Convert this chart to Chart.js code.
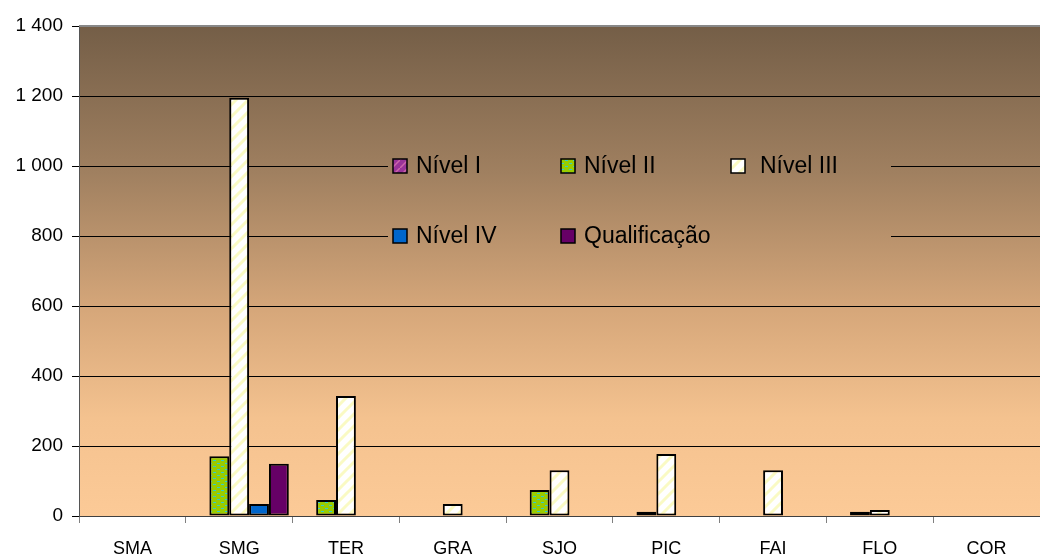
<!DOCTYPE html>
<html>
<head>
<meta charset="utf-8">
<title>Formação por ilha</title>
<script src="https://cdn.jsdelivr.net/npm/chart.js@4/dist/chart.umd.min.js"></script>
<style>
  html, body { margin: 0; padding: 0; background: #ffffff; }
  #wrap { width: 1040px; height: 558px; position: relative; }
</style>
</head>
<body>
<div id="wrap"><canvas id="chart" width="1040" height="558"></canvas></div>
<script>
// Data
const islands = ['SMA', 'SMG', 'TER', 'GRA', 'SJO', 'PIC', 'FAI', 'FLO', 'COR'];
const seriesNames = ['Nível I', 'Nível II', 'Nível III', 'Nível IV', 'Qualificação'];
const nivel1 = [0, 0, 0, 0, 0, 0, 0, 0, 0];
const nivel2 = [0, 171, 46, 0, 74, 12, 0, 12, 0];
const nivel3 = [0, 1195, 343, 34, 131, 177, 131, 17, 0];
const nivel4 = [0, 34, 0, 0, 0, 0, 0, 0, 0];
const qualificacao = [0, 149, 0, 0, 0, 0, 0, 0, 0];
const yTicks = [0, 200, 400, 600, 800, 1000, 1200, 1400];

const FONT = 'Arial, "Liberation Sans", sans-serif';

// --- fill patterns ---
function makeTile(w, h, draw) {
  const c = document.createElement('canvas');
  c.width = w;
  c.height = h;
  draw(c.getContext('2d'));
  return c;
}

const ctx = document.getElementById('chart').getContext('2d');

const tileNivel1 = makeTile(8, 8, (g) => {
  g.fillStyle = '#993399';
  g.fillRect(0, 0, 8, 8);
  g.strokeStyle = '#cc66aa';
  g.lineWidth = 1.5;
  g.beginPath();
  g.moveTo(0, 8); g.lineTo(8, 0);
  g.stroke();
});
const tileNivel2 = makeTile(8, 6, (g) => {
  g.fillStyle = '#99cc00';
  g.fillRect(0, 0, 8, 6);
  g.fillStyle = '#33cccc';
  g.fillRect(1, 1, 3, 1);
  g.fillRect(5, 4, 3, 1);
});
const tileNivel3 = makeTile(12, 12, (g) => {
  g.fillStyle = '#ffffff';
  g.fillRect(0, 0, 12, 12);
  g.strokeStyle = '#fafac4';
  g.lineWidth = 3;
  g.beginPath();
  g.moveTo(-3, 15); g.lineTo(15, -3);
  g.moveTo(-9, 9); g.lineTo(9, -9);
  g.moveTo(3, 21); g.lineTo(21, 3);
  g.stroke();
});
const tileNivel4 = makeTile(20, 20, (g) => {
  g.fillStyle = '#0066cc';
  g.fillRect(0, 0, 20, 20);
  g.fillStyle = '#dde8ff';
  g.fillRect(9, 9, 2, 2);
});

const fills = [
  ctx.createPattern(tileNivel1, 'repeat'),
  ctx.createPattern(tileNivel2, 'repeat'),
  ctx.createPattern(tileNivel3, 'repeat'),
  ctx.createPattern(tileNivel4, 'repeat'),
  '#660066'
];
const values = [nivel1, nivel2, nivel3, nivel4, qualificacao];

function areaGradient(c, area) {
  const g = c.createLinearGradient(0, area.top, 0, area.bottom);
  g.addColorStop(0, '#745e47');
  g.addColorStop(0.3, '#a08060');
  g.addColorStop(0.58, '#d6a77a');
  g.addColorStop(0.8, '#f4c28f');
  g.addColorStop(1, '#fcca97');
  return g;
}

// background of the plot area
const plotBackground = {
  id: 'plotBackground',
  beforeDraw(chart) {
    const { ctx: c, chartArea: a } = chart;
    c.save();
    c.fillStyle = areaGradient(c, a);
    c.fillRect(a.left, a.top, a.right - a.left, a.bottom - a.top);
    c.restore();
  },
  afterDraw(chart) {
    const { ctx: c, chartArea: a } = chart;
    c.save();
    c.strokeStyle = '#888888';
    c.lineWidth = 2;
    c.beginPath();
    c.moveTo(a.left, a.top);
    c.lineTo(a.right, a.top);
    c.stroke();
    c.restore();
  }
};

// legend sitting inside the plot, hiding the grid lines behind it
const innerLegend = {
  id: 'innerLegend',
  beforeDatasetsDraw(chart) {
    const { ctx: c, chartArea: a } = chart;
    const yScale = chart.scales.y;
    const box = { x: 388, y: 140, w: 503, h: 122 };
    c.save();
    c.fillStyle = areaGradient(c, a);
    c.fillRect(box.x, box.y, box.w, box.h);

    const cols = [393, 561, 731];
    const textX = [416, 584, 760];
    const rows = [yScale.getPixelForValue(1000), yScale.getPixelForValue(800)];
    c.font = '23px ' + FONT;
    c.textBaseline = 'middle';
    chart.data.datasets.forEach((ds, i) => {
      const col = i % 3;
      const row = Math.floor(i / 3);
      const bx = cols[col];
      const by = rows[row] - 7;
      c.fillStyle = ds.backgroundColor;
      c.fillRect(bx, by, 14, 14);
      c.strokeStyle = '#000000';
      c.lineWidth = 1.5;
      c.strokeRect(bx, by, 14, 14);
      c.fillStyle = '#000000';
      c.fillText(ds.label, textX[col], rows[row] + 1);
    });
    c.restore();
  }
};

function formatThousands(v) {
  return String(v).replace(/\B(?=(\d{3})+(?!\d))/g, ' ');
}

new Chart(ctx, {
  type: 'bar',
  data: {
    labels: islands,
    datasets: seriesNames.map((name, i) => ({
      label: name,
      data: values[i],
      backgroundColor: fills[i],
      borderColor: '#000000',
      borderWidth: 2,
      borderSkipped: false,
      categoryPercentage: 0.93,
      barPercentage: 1.0
    }))
  },
  options: {
    responsive: false,
    animation: false,
    devicePixelRatio: 1,
    layout: { padding: { top: 26, right: 0, left: 0, bottom: 0 } },
    plugins: {
      legend: { display: false },
      tooltip: { enabled: false }
    },
    scales: {
      x: {
        grid: {
          display: true,
          drawOnChartArea: false,
          drawTicks: true,
          tickLength: 7,
          color: '#808080',
          offset: true
        },
        border: { display: true, color: '#404040', width: 1 },
        ticks: {
          color: '#000000',
          font: { family: FONT, size: 18 },
          padding: 15,
          maxRotation: 0
        },
        afterFit(scale) { scale.height = 42; }
      },
      y: {
        min: 0,
        max: 1400,
        afterBuildTicks(scale) {
          scale.ticks = yTicks.map((v) => ({ value: v }));
        },
        grid: {
          color: '#000000',
          lineWidth: 1,
          drawTicks: true,
          tickLength: 7
        },
        border: { display: true, color: '#555555', width: 1 },
        ticks: {
          color: '#000000',
          font: { family: FONT, size: 19 },
          padding: 9,
          callback: (v) => formatThousands(v)
        },
        afterFit(scale) { scale.width = 79; }
      }
    }
  },
  plugins: [plotBackground, innerLegend]
});
</script>
</body>
</html>
